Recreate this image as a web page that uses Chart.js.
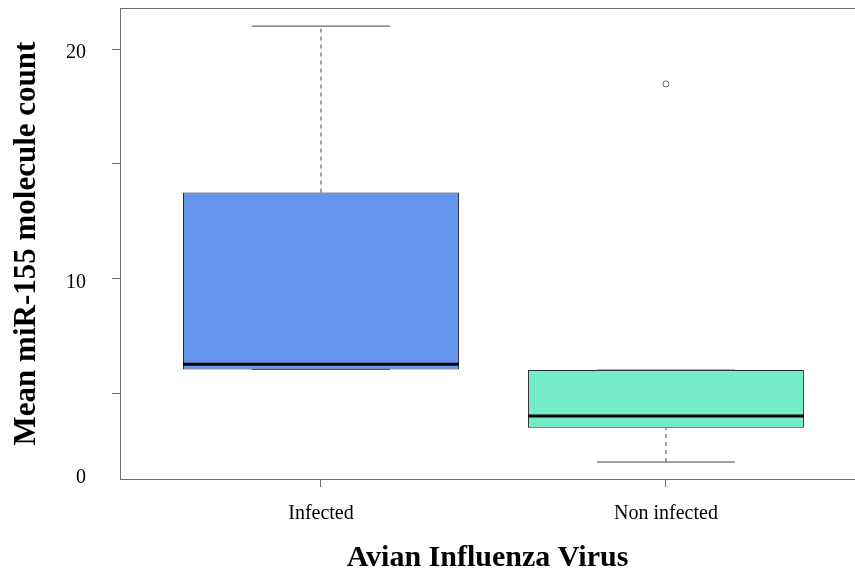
<!DOCTYPE html>
<html>
<head>
<meta charset="utf-8">
<script src="https://cdn.jsdelivr.net/npm/chart.js@4/dist/chart.umd.min.js"></script>
<style>
  html, body { margin: 0; padding: 0; background: #fff; }
  #wrap { width: 855px; height: 569px; position: relative; }
</style>
</head>
<body>
<div id="wrap"><canvas id="c"></canvas></div>
<script>
// ---- data ----
const categories   = ['Infected', 'Non infected'];
const whiskerLow   = [6.03, 1.99];
const q1           = [6.03, 3.49];
const median       = [6.25, 4.00];
const q3           = [13.74, 6.00];
const whiskerHigh  = [21.00, 6.00];
const outliers     = [[], [18.48]];
const boxColors    = ['#6495ED', '#74ECC8'];
const yTickValues  = [1.5, 5, 10, 15, 20];
const yTickLabels  = ['0', '', '10', '', '20'];
const xTitle = 'Avian Influenza Virus';
const yTitle = 'Mean miR-155 molecule count';

// ---- style constants ----
const AXIS = '#6e6e6e';
const BOX_HALF = 0.4, STAPLE_HALF = 0.2;
const FONT = "'Liberation Serif', 'Times New Roman', serif";

const datasets = [];
// boxes
datasets.push({
  type: 'bar',
  data: categories.map((c, i) => ({ x: i + 1, y: [q1[i], q3[i]] })),
  backgroundColor: boxColors,
  borderColor: '#2a2a2a',
  borderWidth: 1,
  borderSkipped: false,
  categoryPercentage: 0.8,
  barPercentage: 1.0,
  order: 5
});
function seg(points, opts) {
  datasets.push(Object.assign({
    type: 'line', data: points, pointRadius: 0, fill: false, tension: 0,
    borderWidth: 1, borderColor: '#444'
  }, opts));
}
categories.forEach((c, i) => {
  const x = i + 1;
  seg([{x, y: q3[i]}, {x, y: whiskerHigh[i]}], {borderDash: [4, 4], borderColor: '#444', order: 4});
  seg([{x, y: whiskerLow[i]}, {x, y: q1[i]}], {borderDash: [4, 4], borderColor: '#444', order: 4});
  seg([{x: x - STAPLE_HALF, y: whiskerHigh[i]}, {x: x + STAPLE_HALF, y: whiskerHigh[i]}], {borderColor: '#444', order: 3});
  seg([{x: x - STAPLE_HALF, y: whiskerLow[i]}, {x: x + STAPLE_HALF, y: whiskerLow[i]}], {borderColor: '#444', order: 3});
  seg([{x: x - BOX_HALF, y: median[i]}, {x: x + BOX_HALF, y: median[i]}], {borderColor: '#000', borderWidth: 3, order: 2});
});
datasets.push({
  type: 'scatter',
  data: categories.flatMap((c, i) => outliers[i].map(v => ({ x: i + 1, y: v }))),
  pointStyle: 'circle', pointRadius: 3, pointBorderWidth: 1,
  pointBackgroundColor: 'rgba(255,255,255,0)', pointBorderColor: '#666',
  order: 1
});

const X_MIN = 0.4174, X_MAX = 2.548;
const noPad = s => { s.paddingTop = 0; s.paddingBottom = 0; s.paddingLeft = 0; s.paddingRight = 0; };

new Chart(document.getElementById('c'), {
  data: { datasets },
  options: {
    responsive: true,
    maintainAspectRatio: false,
    animation: false,
    layout: { padding: 0, autoPadding: false },
    plugins: { legend: { display: false }, tooltip: { enabled: false } },
    scales: {
      x: {
        type: 'linear', position: 'bottom', min: X_MIN, max: X_MAX, offset: false,
        afterBuildTicks: s => { s.ticks = categories.map((c, i) => ({ value: i + 1 })); },
        afterFit: s => { s.height = 90; noPad(s); },
        ticks: {
          autoSkip: false, maxRotation: 0, padding: 15, color: '#000',
          font: { family: FONT, size: 20 },
          callback: (v) => categories[Math.round(v) - 1] || ''
        },
        grid: { display: true, offset: false, drawOnChartArea: false, drawTicks: true, tickLength: 8, color: AXIS, tickColor: AXIS },
        border: { display: true, color: AXIS, width: 1 },
        title: { display: true, text: xTitle, color: '#000',
                 font: { family: FONT, size: 30, weight: 'bold', lineHeight: 1 },
                 padding: { top: 0, bottom: -4 } }
      },
      x2: {
        type: 'linear', position: 'top', min: X_MIN, max: X_MAX, display: true, offset: false,
        afterFit: s => { s.height = 8; noPad(s); },
        ticks: { display: false, padding: 0 },
        grid: { display: false, drawTicks: false },
        border: { display: true, color: AXIS, width: 1 }
      },
      y: {
        type: 'linear', position: 'left', min: 1.25, max: 21.79,
        afterBuildTicks: s => { s.ticks = yTickValues.map(v => ({ value: v })); },
        afterFit: s => { s.width = 120; noPad(s); },
        ticks: {
          autoSkip: false, padding: 26, labelOffset: 4, color: '#000',
          font: { family: FONT, size: 20 },
          callback: (v, i) => yTickLabels[i]
        },
        grid: { display: true, drawOnChartArea: false, drawTicks: true, tickLength: 8, color: AXIS,
                tickColor: (ctx) => (ctx.tick && ctx.tick.value === yTickValues[0]) ? 'rgba(0,0,0,0)' : AXIS },
        border: { display: true, color: AXIS, width: 1 },
        title: { display: true, text: yTitle, color: '#000',
                 font: { family: FONT, size: 31, weight: 'bold', lineHeight: 1 },
                 padding: { top: 11, bottom: 0 } }
      }
    }
  }
});
</script>
</body>
</html>
